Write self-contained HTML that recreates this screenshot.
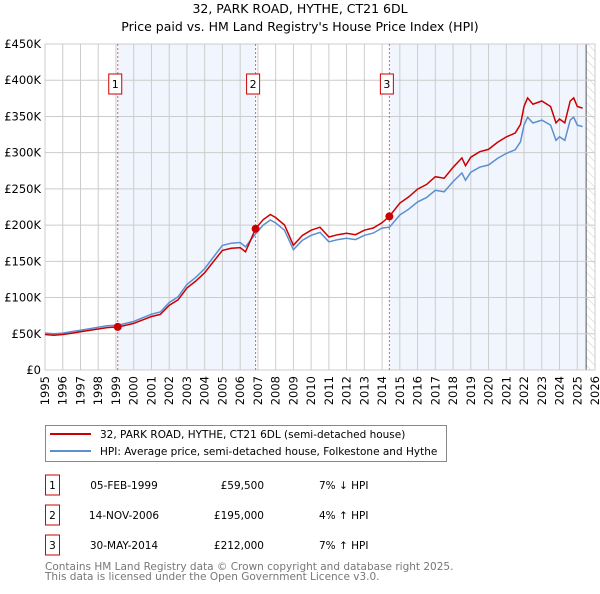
<!DOCTYPE html>
<html><head><meta charset="utf-8"><style>
body{margin:0;background:#fff;font-family:"DejaVu Sans","Liberation Sans",sans-serif;}
svg text{font-family:"DejaVu Sans","Liberation Sans",sans-serif;}
</style></head><body>
<svg id="c" width="600" height="590" xmlns="http://www.w3.org/2000/svg">
<defs><pattern id="hatch" width="6" height="6" patternUnits="userSpaceOnUse" patternTransform="rotate(-45)"><line x1="0" y1="0" x2="0" y2="6" stroke="#ccc" stroke-width="1"/></pattern></defs>
<text x="300" y="13" text-anchor="middle" font-size="12.5" fill="#000">32, PARK ROAD, HYTHE, CT21 6DL</text>
<text x="300" y="31" text-anchor="middle" font-size="12.5" fill="#000">Price paid vs. HM Land Registry's House Price Index (HPI)</text>
<g id="plot"></g>
<g>
<rect x="45.5" y="425.5" width="401" height="36" fill="#fff" stroke="#888"/>
<line x1="50" y1="434" x2="91" y2="434" stroke="#cc0000" stroke-width="2"/>
<text x="100" y="438" font-size="10.5">32, PARK ROAD, HYTHE, CT21 6DL (semi-detached house)</text>
<line x1="50" y1="451" x2="91" y2="451" stroke="#5b8fd0" stroke-width="2"/>
<text x="100" y="455" font-size="10.5">HPI: Average price, semi-detached house, Folkestone and Hythe</text>
</g>
<g id="table" font-size="10.5"></g>
<text x="45" y="570" font-size="10.5" fill="#777">Contains HM Land Registry data © Crown copyright and database right 2025.</text>
<text x="45" y="580" font-size="10.5" fill="#777">This data is licensed under the Open Government Licence v3.0.</text>
</svg>
<script>
const hpiYears=[1995,1995.5,1996,1996.5,1997,1997.5,1998,1998.5,1999.1,1999.5,2000,2000.5,2001,2001.5,2002,2002.5,2003,2003.5,2004,2004.5,2005,2005.5,2006,2006.3,2006.87,2007.3,2007.7,2008,2008.5,2009,2009.5,2010,2010.5,2011,2011.5,2012,2012.5,2013,2013.5,2014,2014.41,2015,2015.5,2016,2016.5,2017,2017.5,2018,2018.5,2018.7,2019,2019.5,2020,2020.5,2021,2021.5,2021.8,2022,2022.2,2022.5,2023,2023.5,2023.8,2024,2024.3,2024.6,2024.8,2025,2025.3];
const hpiValues=[51,50,51,53,55,57,59,61,62,64,67,72,77,80,93,101,118,128,140,156,172,175,176,170,188,200,207,203,193,166,179,186,190,177,180,182,180,186,189,196,197,214,222,232,238,248,246,260,272,262,273,280,283,292,299,304,315,338,349,341,345,338,317,322,317,345,349,338,336];
const saleYears=[1999.1,2006.87,2014.41];
const salePrices=[59500,195000,212000];
const saleLabels=["05-FEB-1999","14-NOV-2006","30-MAY-2014"];
const salePriceText=["£59,500","£195,000","£212,000"];
const saleDiffText=["7% ↓ HPI","4% ↑ HPI","7% ↑ HPI"];
const yTicks=[0,50000,100000,150000,200000,250000,300000,350000,400000,450000];
const yTickLabels=["£0","£50K","£100K","£150K","£200K","£250K","£300K","£350K","£400K","£450K"];
const xTicks=[];for(let y=1995;y<=2026;y++)xTicks.push(y);

const NS="http://www.w3.org/2000/svg";
const X0=45,X1=595,Y0=370,Y1=44;
const xs=v=>X0+(v-1995)/(2026-1995)*(X1-X0);
const ys=v=>Y0-v/450000*(Y0-Y1);
const plot=document.getElementById('plot');
function mk(tag,attrs,parent){const e=document.createElementNS(NS,tag);for(const k in attrs)e.setAttribute(k,attrs[k]);(parent||plot).appendChild(e);return e;}
let r=mk('rect',{x:xs(saleYears[0]),y:Y1,width:xs(saleYears[1])-xs(saleYears[0]),height:Y0-Y1,fill:'#eef3fc',opacity:0.8});


r=mk('rect',{x:xs(saleYears[2]),y:Y1,width:xs(2025.5)-xs(saleYears[2]),height:Y0-Y1,fill:'#eef3fc',opacity:0.8});


r=mk('rect',{x:xs(2025.5),y:Y1,width:X1-xs(2025.5),height:Y0-Y1,fill:'url(#hatch)'});


mk('line',{x1:xs(2025.5),x2:xs(2025.5),y1:Y1,y2:Y0,stroke:'#555','stroke-width':1});
yTicks.forEach((t,i)=>{
 mk('line',{x1:X0,x2:X1,y1:ys(t),y2:ys(t),stroke:'#ccc','stroke-width':1});
 const tx=mk('text',{x:X0-4,y:ys(t)+4,'text-anchor':'end','font-size':'11.5'});
 tx.textContent=yTickLabels[i];
 
 
});
xTicks.forEach(t=>{
 mk('line',{x1:xs(t),x2:xs(t),y1:Y1,y2:Y0,stroke:'#ccc','stroke-width':1});
 const tx=mk('text',{x:0,y:0,'text-anchor':'end','font-size':'11.5',transform:'translate('+(xs(t)+4)+','+(Y0+6)+') rotate(-90)'});
 tx.textContent=t;
 
 
});
mk('rect',{x:X0,y:Y1,width:X1-X0,height:Y0-Y1,fill:'none',stroke:'#ccc'});
const hpiAt=t=>{for(let i=1;i<hpiYears.length;i++){if(t<=hpiYears[i]){const f=(t-hpiYears[i-1])/(hpiYears[i]-hpiYears[i-1]);return hpiValues[i-1]+f*(hpiValues[i]-hpiValues[i-1]);}}return hpiValues[hpiValues.length-1];};
const redVals=hpiYears.map((t,i)=>{let k=0;if(t>=saleYears[2])k=2;else if(t>=saleYears[1])k=1;return salePrices[k]*hpiValues[i]/hpiAt(saleYears[k]);});
let p=mk('path',{d:hpiYears.map((t,i)=>(i?'L':'M')+xs(t).toFixed(1)+','+ys(hpiValues[i]*1000).toFixed(1)).join(''),fill:'none',stroke:'#5b8fd0','stroke-width':1.5});


p=mk('path',{d:hpiYears.map((t,i)=>(i?'L':'M')+xs(t).toFixed(1)+','+ys(redVals[i]).toFixed(1)).join(''),fill:'none',stroke:'#cc0000','stroke-width':1.5});


saleYears.forEach((t,i)=>{
 mk('line',{x1:xs(t),x2:xs(t),y1:Y1,y2:Y0,stroke:'#e06060','stroke-width':1,'stroke-dasharray':'2,2'});
 const c=mk('circle',{cx:xs(t),cy:ys(salePrices[i]),r:4,fill:'#cc0000'});
 
 
 const g=mk('g',{});
 
 
 mk('rect',{x:xs(t)-9,y:74,width:13,height:20,fill:'#fff',stroke:'#cc0000'},g);
 const tx=mk('text',{x:xs(t)-2.5,y:88,'text-anchor':'middle','font-size':'11'},g);tx.textContent=i+1;
});
const tb=document.getElementById('table');
saleLabels.forEach((d,i)=>{
 const y=485+i*30;
 const g=mk('g',{},tb);
 
 
 mk('rect',{x:45.5,y:y-10,width:14,height:20,fill:'#fff',stroke:'#cc0000'},g);
 let t=mk('text',{x:52.5,y:y+4,'text-anchor':'middle'},g);t.textContent=i+1;
 t=mk('text',{x:124,y:y+4,'text-anchor':'middle'},g);t.textContent=d;
 t=mk('text',{x:264,y:y+4,'text-anchor':'end'},g);t.textContent=salePriceText[i];
 t=mk('text',{x:319,y:y+4},g);t.textContent=saleDiffText[i];
});
</script>
</body></html>
